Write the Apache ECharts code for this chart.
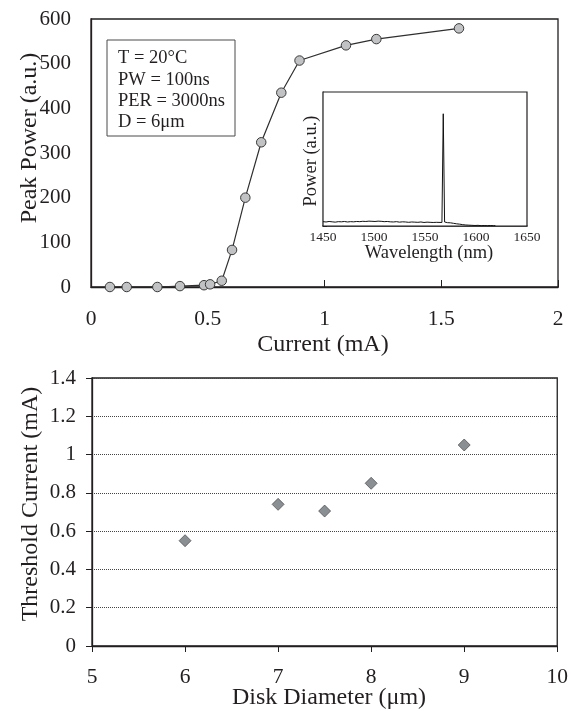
<!DOCTYPE html>
<html>
<head>
<meta charset="utf-8">
<script src="https://cdn.jsdelivr.net/npm/echarts@6/dist/echarts.min.js"></script>
<style>
html,body{margin:0;padding:0;background:#fff;}
#chart{width:571px;height:711px;}
</style>
</head>
<body>
<div id="chart"></div>
<script>
// ---- Data ----
const currentMA = [0.081, 0.153, 0.284, 0.381, 0.484, 0.51, 0.56, 0.604, 0.661, 0.729, 0.815, 0.893, 1.092, 1.222, 1.576];
const peakPower = [0, 0, 0, 2, 4, 6, 14, 83, 200, 324, 435, 507, 541, 555, 579];

const specWavelength = [
  1450,1453,1456,1459,1462,1465,1468,1471,1474,1477,
  1480,1483,1486,1489,1492,1495,1498,1501,1504,1507,
  1510,1513,1516,1519,1522,1525,1528,1531,1534,1537,
  1540,1543,1546,1549,1552,1555,1558,1561,
  1566.6,1567.9,1569.2,
  1572,1575,1578,1581,1584,1587,1590,1593,1596,1599,1602,1605,1608,1611,1614,1617,1619
];
const specPower = [
  0.26,0.24,0.27,0.25,0.23,0.26,0.25,0.27,0.24,0.26,
  0.25,0.27,0.26,0.28,0.27,0.29,0.28,0.27,0.29,0.28,
  0.26,0.27,0.25,0.24,0.26,0.23,0.25,0.24,0.22,0.24,
  0.23,0.22,0.24,0.21,0.23,0.22,0.21,0.22,
  0.21,6.7,0.24,
  0.2,0.19,0.16,0.13,0.11,0.08,0.06,0.05,0.04,0.03,0.04,0.02,0.03,0.02,0.03,0.02,0.02
];

const diameterUm = [6, 7, 7.5, 8, 9];
const thresholdMA = [0.55, 0.74, 0.705, 0.85, 1.05];

const infoLines = ['T = 20°C', 'PW = 100ns', 'PER = 3000ns', 'D = 6μm'];

// ---- Styling ----
const FONT = '"Liberation Serif", "DejaVu Serif", serif';
const TXT = '#231f20';
const AX = '#231f20';

const chart = echarts.init(document.getElementById('chart'), null, {renderer: 'canvas'});

function pairs(xs, ys) { return xs.map((x, i) => [x, ys[i]]); }
const plain = v => String(v);

function label(text, x, y, size, rot) {
  return {
    type: 'text', x: x, y: y, rotation: rot || 0, z: 100,
    style: {
      x: 0, y: 0, text: text, fill: TXT,
      font: size + 'px ' + FONT,
      textAlign: 'center', textVerticalAlign: 'middle',
      align: 'center', verticalAlign: 'middle'
    }
  };
}

const info = [{
  type: 'rect', z: 90,
  shape: {x: 107, y: 40, width: 128, height: 96},
  style: {fill: '#fff', stroke: '#4a4a4a', lineWidth: 1}
}];
const lineY = [58, 80, 101, 122];
infoLines.forEach((t, i) => {
  info.push({
    type: 'text', z: 100, x: 118, y: lineY[i],
    style: {x: 0, y: 0, text: t, fill: TXT, font: '18.5px ' + FONT,
      textAlign: 'left', textVerticalAlign: 'middle', align: 'left', verticalAlign: 'middle'}
  });
});

const option = {
  backgroundColor: '#fff',
  animation: false,
  grid: [
    {left: 91, top: 19, width: 467, height: 268, show: true, borderColor: AX, borderWidth: 1.3, backgroundColor: 'transparent'},
    {left: 323, top: 92, width: 204, height: 134, show: true, borderColor: AX, borderWidth: 1.2, backgroundColor: '#fff', z: 3},
    {left: 92, top: 378, width: 466, height: 268, show: true, borderColor: AX, borderWidth: 1.3, backgroundColor: 'transparent'}
  ],
  xAxis: [
    {
      gridIndex: 0, type: 'value', min: 0, max: 2, interval: 0.5,
      axisLine: {show: true, lineStyle: {color: AX, width: 1.3}},
      axisTick: {show: true, inside: true, length: 7, lineStyle: {color: AX, width: 1}},
      axisLabel: {color: TXT, fontFamily: FONT, fontSize: 21.5, margin: 21, formatter: plain},
      splitLine: {show: false}
    },
    {
      gridIndex: 1, type: 'value', min: 1450, max: 1650, interval: 50,
      axisLine: {show: true, lineStyle: {color: AX, width: 1.5}},
      axisTick: {show: false},
      axisLabel: {color: TXT, fontFamily: FONT, fontSize: 13.5, margin: 4, formatter: plain},
      splitLine: {show: false}
    },
    {
      gridIndex: 2, type: 'value', min: 5, max: 10, interval: 1,
      axisLine: {show: true, lineStyle: {color: AX, width: 1.3}},
      axisTick: {show: true, inside: false, length: 6, lineStyle: {color: AX, width: 1}},
      axisLabel: {color: TXT, fontFamily: FONT, fontSize: 21.5, margin: 20, formatter: plain},
      splitLine: {show: false}
    }
  ],
  yAxis: [
    {
      gridIndex: 0, type: 'value', min: 0, max: 600, interval: 100,
      axisLine: {show: true, lineStyle: {color: AX, width: 1.3}},
      axisTick: {show: false},
      axisLabel: {color: TXT, fontFamily: FONT, fontSize: 21, margin: 20, formatter: plain},
      splitLine: {show: false}
    },
    {
      gridIndex: 1, type: 'value', min: 0, max: 8, interval: 1,
      axisLine: {show: true, lineStyle: {color: AX, width: 1.2}},
      axisTick: {show: true, inside: true, length: 4, lineStyle: {color: AX, width: 1}},
      axisLabel: {show: false},
      splitLine: {show: false}
    },
    {
      gridIndex: 2, type: 'value', min: 0, max: 1.4, interval: 0.2,
      axisLine: {show: true, lineStyle: {color: AX, width: 1.3}},
      axisTick: {show: true, inside: false, length: 6, lineStyle: {color: AX, width: 1}},
      axisLabel: {color: TXT, fontFamily: FONT, fontSize: 21, margin: 16},
      splitLine: {show: true, lineStyle: {color: '#444', type: 'dotted', width: 1}}
    }
  ],
  series: [
    {
      type: 'line', xAxisIndex: 0, yAxisIndex: 0,
      data: pairs(currentMA, peakPower),
      symbol: 'circle', symbolSize: 9.5, showSymbol: true,
      lineStyle: {color: '#2f2f2f', width: 1.2},
      itemStyle: {color: '#c0c2c4', borderColor: '#3a3a3a', borderWidth: 1},
      z: 2
    },
    {
      type: 'line', xAxisIndex: 1, yAxisIndex: 1,
      data: pairs(specWavelength, specPower),
      showSymbol: false, symbol: 'none',
      lineStyle: {color: '#111', width: 1},
      z: 5
    },
    {
      type: 'scatter', xAxisIndex: 2, yAxisIndex: 2,
      data: pairs(diameterUm, thresholdMA),
      symbol: 'diamond', symbolSize: 12,
      itemStyle: {color: '#6c7378', borderColor: '#3c3c3c', borderWidth: 0.8},
      z: 5
    }
  ],
  graphic: [
    label('Peak Power (a.u.)', 30, 138, 24, Math.PI / 2),
    label('Current (mA)', 323, 345, 24),
    label('Power (a.u.)', 311, 161, 18.5, Math.PI / 2),
    label('Wavelength (nm)', 429, 253, 18.5),
    label('Threshold Current (mA)', 31, 504, 24, Math.PI / 2),
    label('Disk Diameter (μm)', 329, 698, 24)
  ].concat(info)
};

chart.setOption(option);
</script>
</body>
</html>
